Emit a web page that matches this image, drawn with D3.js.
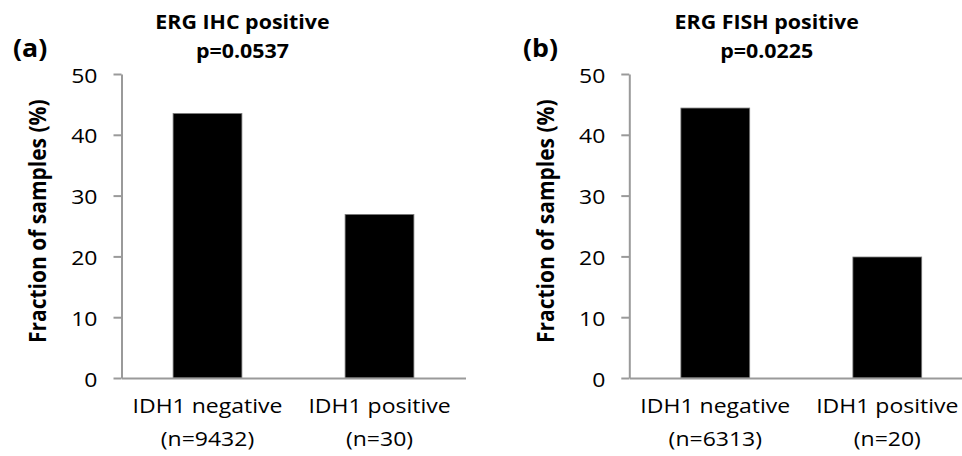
<!DOCTYPE html>
<html>
<head>
<meta charset="utf-8">
<script src="https://cdn.jsdelivr.net/npm/d3@7"></script>
<style>
  html, body { margin: 0; padding: 0; background: #fff; }
  svg { display: block; }
  text { font-family: "Open Sans", "Noto Sans", sans-serif; fill: #000; }
</style>
</head>
<body>
<svg id="chart" width="962" height="456"></svg>
<script>
// ---------- data ----------
const categories = ["IDH1 negative", "IDH1 positive"];
const ihcCounts = ["(n=9432)", "(n=30)"];
const fishCounts = ["(n=6313)", "(n=20)"];
const ihcValues = [43.5, 26.9];
const fishValues = [44.4, 19.9];
const yTicks = [0, 10, 20, 30, 40, 50];
const panelLetters = ["(a)", "(b)"];
const panelTitles = ["ERG IHC positive", "ERG FISH positive"];
const pValues = ["p=0.0537", "p=0.0225"];
const yAxisTitle = "Fraction of samples (%)";

// ---------- layout ----------
const svg = d3.select("#chart");
const stretch = 1.15;          // horizontal stretch of regular text in the reference
const boldStretch = 1.07;
const axisColor = "#9a9a9a";
const panels = [
  { x0: 121.5, values: ihcValues, counts: ihcCounts, titleX: 242.5, letterX: 13 },
  { x0: 629.3, values: fishValues, counts: fishCounts, titleX: 766.7, letterX: 523 }
];
const plotW = 344, yTop = 74, yBottom = 378;

const y = d3.scaleLinear().domain([0, 50]).range([yBottom, yTop]);

panels.forEach((p, i) => {
  const g = svg.append("g");
  const x = d3.scaleBand().domain(categories)
    .range([p.x0, p.x0 + plotW]).paddingInner(0.6).paddingOuter(0.3);

  // bars
  g.selectAll("rect.bar").data(categories).join("rect")
    .attr("class", "bar")
    .attr("x", d => x(d))
    .attr("width", x.bandwidth())
    .attr("y", (d, j) => y(p.values[j]))
    .attr("height", (d, j) => y(0) - y(p.values[j]))
    .attr("fill", "#000")
    .attr("stroke", "#7a7a7a")
    .attr("stroke-width", 0.8);

  // y axis
  const yAxis = g.append("g")
    .attr("transform", `translate(${p.x0},0)`)
    .call(d3.axisLeft(y).tickValues(yTicks).tickSize(8).tickSizeOuter(0).tickPadding(16));
  yAxis.selectAll("path, line").attr("stroke", axisColor).attr("stroke-width", 2);
  yAxis.selectAll("text")
    .attr("font-size", 20)
    .attr("font-family", "Open Sans")
    .attr("fill", "#000")
    .attr("x", -24 / stretch)
    .attr("dy", "0.4em")
    .attr("transform", `scale(${stretch},1)`);

  // x axis
  const xAxis = g.append("g")
    .attr("transform", `translate(0,${yBottom})`)
    .call(d3.axisBottom(x).tickSize(0).tickSizeOuter(0).tickFormat(""));
  xAxis.select("path").attr("stroke", axisColor).attr("stroke-width", 2);

  // category labels
  categories.forEach((c, j) => {
    const cx = x(c) + x.bandwidth() / 2;
    g.append("text")
      .attr("transform", `translate(${cx},413) scale(${stretch},1)`)
      .attr("text-anchor", "middle").attr("font-size", 20)
      .text(c);
    g.append("text")
      .attr("transform", `translate(${cx},446) scale(${stretch},1)`)
      .attr("text-anchor", "middle").attr("font-size", 20)
      .text(p.counts[j]);
  });

  // y axis title
  g.append("text")
    .attr("transform", `translate(${p.x0 - 75.5},343) rotate(-90) scale(1,1.13)`)
    .attr("text-anchor", "start")
    .attr("font-weight", "bold").attr("font-size", 21)
    .text(yAxisTitle);

  // panel titles
  g.append("text")
    .attr("transform", `translate(${p.titleX},29.3) scale(${boldStretch},1)`)
    .attr("text-anchor", "middle").attr("font-weight", "bold").attr("font-size", 20)
    .text(panelTitles[i]);
  g.append("text")
    .attr("transform", `translate(${p.titleX},58) scale(${boldStretch},1)`)
    .attr("text-anchor", "middle").attr("font-weight", "bold").attr("font-size", 20)
    .text(pValues[i]);

  // panel letter
  g.append("text")
    .attr("transform", `translate(${p.letterX},57) scale(${boldStretch},1)`)
    .attr("font-weight", "bold").attr("font-size", 25)
    .text(panelLetters[i]);
});
</script>
</body>
</html>
